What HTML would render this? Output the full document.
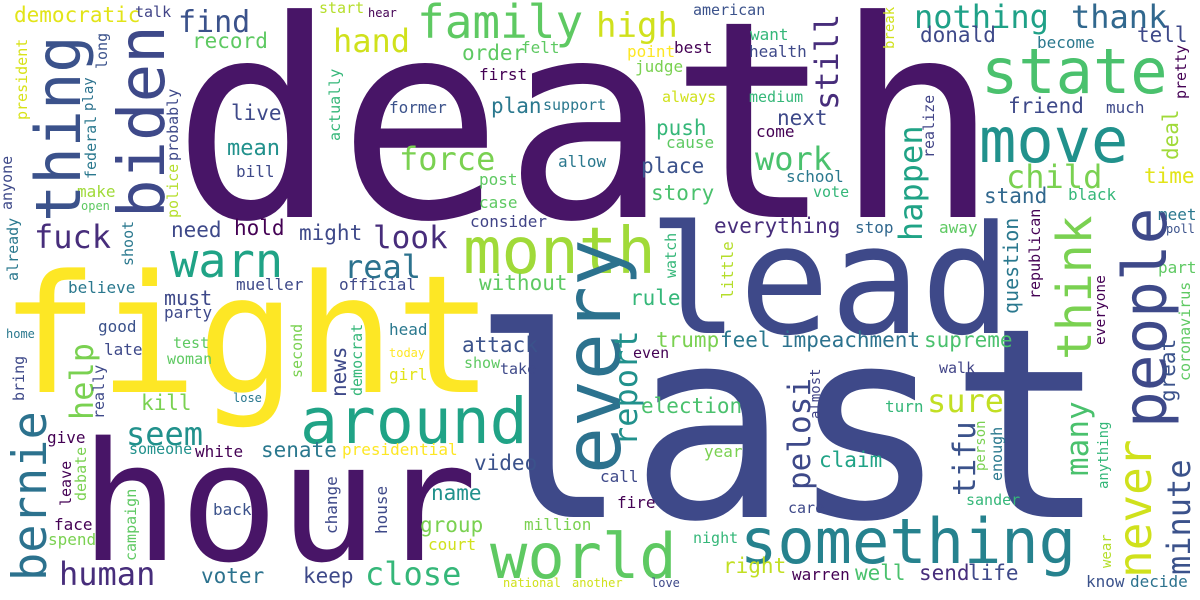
<!DOCTYPE html>
<html><head><meta charset="utf-8"><style>
html,body{margin:0;padding:0;background:#fff;}
svg{display:block;}
text{font-family:"DejaVu Sans Mono","Liberation Mono",monospace;}
</style></head><body>
<svg width="1200" height="600" viewBox="0 0 1200 600" xmlns="http://www.w3.org/2000/svg">
<rect width="1200" height="600" fill="#ffffff"/>
<g>
<text x="172" y="217" font-size="275" fill="#481567">death</text>
<text x="470" y="517" font-size="265" fill="#3e4989">last</text>
<text x="0" y="392" font-size="164" fill="#fde725">fight</text>
<text x="80" y="560" font-size="165" fill="#481567">hour</text>
<text x="648" y="333" font-size="151" fill="#3e4989">lead</text>
<text x="463" y="273" font-size="64" fill="#a0da39">month</text>
<text x="981" y="93" font-size="62" fill="#4ac16d">state</text>
<text x="979" y="162" font-size="62" fill="#21918c">move</text>
<text x="300" y="443" font-size="63" fill="#20a386">around</text>
<text x="490" y="578" font-size="62" fill="#5ec962">world</text>
<text x="740" y="563" font-size="62" fill="#26828e">something</text>
<text x="170" y="277" font-size="47" fill="#20a386">warn</text>
<text x="417" y="38" font-size="46" fill="#5ec962">family</text>
<text x="14" y="22" font-size="21" fill="#e2e418">democratic</text>
<text x="135" y="17" font-size="15" fill="#414487">talk</text>
<text x="178" y="32" font-size="30" fill="#3b528b">find</text>
<text x="192" y="48" font-size="21" fill="#5ec962">record</text>
<text x="333" y="52" font-size="32" fill="#d0e11c">hand</text>
<text x="319" y="13" font-size="15" fill="#b5de2b">start</text>
<text x="368" y="17" font-size="12" fill="#440154">hear</text>
<text x="462" y="60" font-size="21" fill="#5ec962">order</text>
<text x="521" y="53" font-size="16" fill="#5ec962">felt</text>
<text x="479" y="80" font-size="16" fill="#440154">first</text>
<text x="491" y="113" font-size="21" fill="#2a788e">plan</text>
<text x="543" y="110" font-size="15" fill="#2a788e">support</text>
<text x="389" y="113" font-size="16" fill="#3b528b">former</text>
<text x="231" y="120" font-size="21" fill="#3e4989">live</text>
<text x="227" y="155" font-size="22" fill="#21918c">mean</text>
<text x="236" y="177" font-size="16" fill="#3e4989">bill</text>
<text x="399" y="170" font-size="32" fill="#7ad151">force</text>
<text x="558" y="167" font-size="16" fill="#2a788e">allow</text>
<text x="479" y="185" font-size="16" fill="#5ec962">post</text>
<text x="479" y="208" font-size="16" fill="#5ec962">case</text>
<text x="470" y="227" font-size="16" fill="#414487">consider</text>
<text x="77" y="197" font-size="16" fill="#a0da39">make</text>
<text x="81" y="210" font-size="12" fill="#5ec962">open</text>
<text x="34" y="248" font-size="32" fill="#472d7b">fuck</text>
<text x="171" y="237" font-size="21" fill="#3e4989">need</text>
<text x="234" y="235" font-size="21" fill="#440154">hold</text>
<text x="299" y="240" font-size="21" fill="#3e4989">might</text>
<text x="373" y="248" font-size="31" fill="#472d7b">look</text>
<text x="344" y="278" font-size="32" fill="#2c728e">real</text>
<text x="68" y="293" font-size="16" fill="#2a788e">believe</text>
<text x="236" y="290" font-size="16" fill="#3e4989">mueller</text>
<text x="339" y="290" font-size="16" fill="#3e4989">official</text>
<text x="479" y="290" font-size="21" fill="#5ec962">without</text>
<text x="164" y="305" font-size="20" fill="#3e4989">must</text>
<text x="596" y="37" font-size="34" fill="#d0e11c">high</text>
<text x="693" y="15" font-size="15" fill="#3b528b">american</text>
<text x="914" y="28" font-size="32" fill="#1fa187">nothing</text>
<text x="1071" y="28" font-size="32" fill="#31688e">thank</text>
<text x="920" y="42" font-size="21" fill="#3e4989">donald</text>
<text x="1137" y="42" font-size="21" fill="#3e4989">tell</text>
<text x="1037" y="48" font-size="16" fill="#2a788e">become</text>
<text x="750" y="40" font-size="16" fill="#35b779">want</text>
<text x="749" y="57" font-size="16" fill="#3e4989">health</text>
<text x="674" y="53" font-size="16" fill="#440154">best</text>
<text x="627" y="57" font-size="16" fill="#fde725">point</text>
<text x="635" y="72" font-size="16" fill="#7ad151">judge</text>
<text x="662" y="102" font-size="15" fill="#d0e11c">always</text>
<text x="749" y="102" font-size="15" fill="#35b779">medium</text>
<text x="1008" y="113" font-size="21" fill="#3e4989">friend</text>
<text x="1106" y="113" font-size="16" fill="#3e4989">much</text>
<text x="777" y="125" font-size="21" fill="#3e4989">next</text>
<text x="656" y="135" font-size="21" fill="#35b779">push</text>
<text x="666" y="148" font-size="16" fill="#5ec962">cause</text>
<text x="756" y="137" font-size="16" fill="#440154">come</text>
<text x="755" y="170" font-size="32" fill="#4ac16d">work</text>
<text x="641" y="173" font-size="21" fill="#3b528b">place</text>
<text x="786" y="182" font-size="16" fill="#2a788e">school</text>
<text x="813" y="197" font-size="15" fill="#35b779">vote</text>
<text x="651" y="200" font-size="21" fill="#4ac16d">story</text>
<text x="1006" y="188" font-size="32" fill="#7ad151">child</text>
<text x="1144" y="183" font-size="21" fill="#e2e418">time</text>
<text x="984" y="203" font-size="21" fill="#31688e">stand</text>
<text x="1068" y="200" font-size="16" fill="#35b779">black</text>
<text x="714" y="233" font-size="21" fill="#472d7b">everything</text>
<text x="855" y="233" font-size="16" fill="#31688e">stop</text>
<text x="939" y="233" font-size="16" fill="#5ec962">away</text>
<text x="1158" y="220" font-size="16" fill="#2a788e">meet</text>
<text x="1166" y="233" font-size="12" fill="#3b528b">poll</text>
<text x="1158" y="273" font-size="16" fill="#5ec962">part</text>
<text x="630" y="305" font-size="21" fill="#35b779">rule</text>
<text x="6" y="338" font-size="12" fill="#2a788e">home</text>
<text x="98" y="332" font-size="16" fill="#3b528b">good</text>
<text x="104" y="355" font-size="16" fill="#3e4989">late</text>
<text x="164" y="318" font-size="16" fill="#3e4989">party</text>
<text x="173" y="348" font-size="15" fill="#5ec962">test</text>
<text x="167" y="364" font-size="15" fill="#5ec962">woman</text>
<text x="141" y="410" font-size="21" fill="#7ad151">kill</text>
<text x="389" y="335" font-size="16" fill="#2a788e">head</text>
<text x="389" y="357" font-size="12" fill="#fde725">today</text>
<text x="389" y="380" font-size="16" fill="#e2e418">girl</text>
<text x="233" y="402" font-size="12" fill="#2a788e">lose</text>
<text x="462" y="352" font-size="21" fill="#3b528b">attack</text>
<text x="464" y="368" font-size="15" fill="#5ec962">show</text>
<text x="500" y="374" font-size="15" fill="#3e4989">take</text>
<text x="126" y="445" font-size="32" fill="#21918c">seem</text>
<text x="47" y="443" font-size="16" fill="#440154">give</text>
<text x="129" y="454" font-size="15" fill="#21918c">someone</text>
<text x="195" y="457" font-size="16" fill="#440154">white</text>
<text x="261" y="457" font-size="21" fill="#2a788e">senate</text>
<text x="342" y="455" font-size="16" fill="#fde725">presidential</text>
<text x="474" y="470" font-size="21" fill="#3b528b">video</text>
<text x="431" y="500" font-size="21" fill="#21918c">name</text>
<text x="213" y="515" font-size="16" fill="#3b528b">back</text>
<text x="54" y="530" font-size="16" fill="#440154">face</text>
<text x="48" y="545" font-size="16" fill="#7ad151">spend</text>
<text x="420" y="532" font-size="21" fill="#7ad151">group</text>
<text x="524" y="530" font-size="16" fill="#7ad151">million</text>
<text x="428" y="550" font-size="16" fill="#d0e11c">court</text>
<text x="59" y="585" font-size="32" fill="#472d7b">human</text>
<text x="201" y="583" font-size="21" fill="#2c728e">voter</text>
<text x="303" y="583" font-size="21" fill="#3e4989">keep</text>
<text x="365" y="585" font-size="32" fill="#35b779">close</text>
<text x="503" y="587" font-size="12" fill="#d0e11c">national</text>
<text x="572" y="587" font-size="12" fill="#d0e11c">another</text>
<text x="656" y="347" font-size="21" fill="#7ad151">trump</text>
<text x="720" y="347" font-size="21" fill="#2a788e">feel</text>
<text x="781" y="347" font-size="21" fill="#2c728e">impeachment</text>
<text x="924" y="347" font-size="21" fill="#4ac16d">supreme</text>
<text x="633" y="358" font-size="15" fill="#440154">even</text>
<text x="939" y="373" font-size="15" fill="#414487">walk</text>
<text x="641" y="413" font-size="21" fill="#4ac16d">election</text>
<text x="927" y="412" font-size="32" fill="#c2df23">sure</text>
<text x="885" y="412" font-size="16" fill="#35b779">turn</text>
<text x="704" y="457" font-size="16" fill="#7ad151">year</text>
<text x="819" y="467" font-size="21" fill="#20a386">claim</text>
<text x="600" y="482" font-size="16" fill="#3e4989">call</text>
<text x="617" y="508" font-size="16" fill="#440154">fire</text>
<text x="788" y="513" font-size="15" fill="#3e4989">care</text>
<text x="966" y="505" font-size="15" fill="#35b779">sander</text>
<text x="693" y="543" font-size="15" fill="#35b779">night</text>
<text x="723" y="573" font-size="21" fill="#c2df23">right</text>
<text x="792" y="580" font-size="16" fill="#440154">warren</text>
<text x="855" y="580" font-size="21" fill="#4ac16d">well</text>
<text x="919" y="580" font-size="21" fill="#472d7b">send</text>
<text x="968" y="580" font-size="21" fill="#3e4989">life</text>
<text x="1086" y="587" font-size="16" fill="#3b528b">know</text>
<text x="1130" y="587" font-size="16" fill="#2c728e">decide</text>
<text x="651" y="587" font-size="12" fill="#3e4989">love</text>
</g>
<g>
<text transform="translate(620,474) rotate(-90)" font-size="78" fill="#2c728e">every</text>
<text transform="translate(80,222) rotate(-90)" font-size="62" fill="#3b528b">thing</text>
<text transform="translate(164,218) rotate(-90)" font-size="64" fill="#3e4989">biden</text>
<text transform="translate(1166,428) rotate(-90)" font-size="61" fill="#3e4989">people</text>
<text transform="translate(1091,360) rotate(-90)" font-size="48" fill="#7ad151">think</text>
<text transform="translate(1151,578) rotate(-90)" font-size="46" fill="#d0e11c">never</text>
<text transform="translate(46,581) rotate(-90)" font-size="47" fill="#2c728e">bernie</text>
<text transform="translate(838,110) rotate(-90)" font-size="32" fill="#472d7b">still</text>
<text transform="translate(922,241) rotate(-90)" font-size="32" fill="#20a386">happen</text>
<text transform="translate(637,446) rotate(-90)" font-size="32" fill="#21918c">report</text>
<text transform="translate(810,490) rotate(-90)" font-size="31" fill="#3e4989">pelosi</text>
<text transform="translate(975,496) rotate(-90)" font-size="31" fill="#3b528b">tifu</text>
<text transform="translate(1088,476) rotate(-90)" font-size="31" fill="#4ac16d">many</text>
<text transform="translate(1190,575) rotate(-90)" font-size="32" fill="#3b528b">minute</text>
<text transform="translate(93,420) rotate(-90)" font-size="32" fill="#7ad151">help</text>
<text transform="translate(1178,160) rotate(-90)" font-size="21" fill="#a0da39">deal</text>
<text transform="translate(1175,402) rotate(-90)" font-size="21" fill="#3b528b">great</text>
<text transform="translate(1018,314) rotate(-90)" font-size="20" fill="#2a788e">question</text>
<text transform="translate(346,397) rotate(-90)" font-size="21" fill="#3e4989">news</text>
<text transform="translate(340,141) rotate(-90)" font-size="15" fill="#35b779">actually</text>
<text transform="translate(107,69) rotate(-90)" font-size="15" fill="#3b528b">long</text>
<text transform="translate(27,120) rotate(-90)" font-size="15" fill="#d8e219">president</text>
<text transform="translate(93,111) rotate(-90)" font-size="14" fill="#2c728e">play</text>
<text transform="translate(96,179) rotate(-90)" font-size="15" fill="#2a788e">federal</text>
<text transform="translate(178,161) rotate(-90)" font-size="15" fill="#3e4989">probably</text>
<text transform="translate(178,218) rotate(-90)" font-size="15" fill="#b5de2b">police</text>
<text transform="translate(12,210) rotate(-90)" font-size="15" fill="#3e4989">anyone</text>
<text transform="translate(18,281) rotate(-90)" font-size="15" fill="#2a788e">already</text>
<text transform="translate(133,266) rotate(-90)" font-size="15" fill="#2a788e">shoot</text>
<text transform="translate(894,49) rotate(-90)" font-size="14" fill="#d0e11c">break</text>
<text transform="translate(1186,99) rotate(-90)" font-size="15" fill="#440154">pretty</text>
<text transform="translate(934,158) rotate(-90)" font-size="15" fill="#414487">realize</text>
<text transform="translate(1040,299) rotate(-90)" font-size="15" fill="#440154">republican</text>
<text transform="translate(733,299) rotate(-90)" font-size="16" fill="#b5de2b">little</text>
<text transform="translate(676,278) rotate(-90)" font-size="15" fill="#35b779">watch</text>
<text transform="translate(1190,381) rotate(-90)" font-size="15" fill="#5ec962">coronavirus</text>
<text transform="translate(1105,345) rotate(-90)" font-size="14.5" fill="#440154">everyone</text>
<text transform="translate(24,401) rotate(-90)" font-size="15" fill="#3e4989">bring</text>
<text transform="translate(104,419) rotate(-90)" font-size="15" fill="#3e4989">really</text>
<text transform="translate(302,378) rotate(-90)" font-size="15" fill="#7ad151">second</text>
<text transform="translate(362,396) rotate(-90)" font-size="15" fill="#35b779">democrat</text>
<text transform="translate(86,501) rotate(-90)" font-size="15" fill="#7ad151">debate</text>
<text transform="translate(71,506) rotate(-90)" font-size="15" fill="#440154">leave</text>
<text transform="translate(337,534) rotate(-90)" font-size="16" fill="#3e4989">change</text>
<text transform="translate(387,534) rotate(-90)" font-size="16" fill="#3e4989">house</text>
<text transform="translate(136,561) rotate(-90)" font-size="15" fill="#5ec962">campaign</text>
<text transform="translate(820,419) rotate(-90)" font-size="14" fill="#414487">almost</text>
<text transform="translate(985,471) rotate(-90)" font-size="14" fill="#7ad151">person</text>
<text transform="translate(1002,481) rotate(-90)" font-size="15" fill="#2a788e">enough</text>
<text transform="translate(1108,489) rotate(-90)" font-size="14" fill="#35b779">anything</text>
<text transform="translate(1111,568) rotate(-90)" font-size="14" fill="#b5de2b">wear</text>
</g>
</svg>
</body></html>
